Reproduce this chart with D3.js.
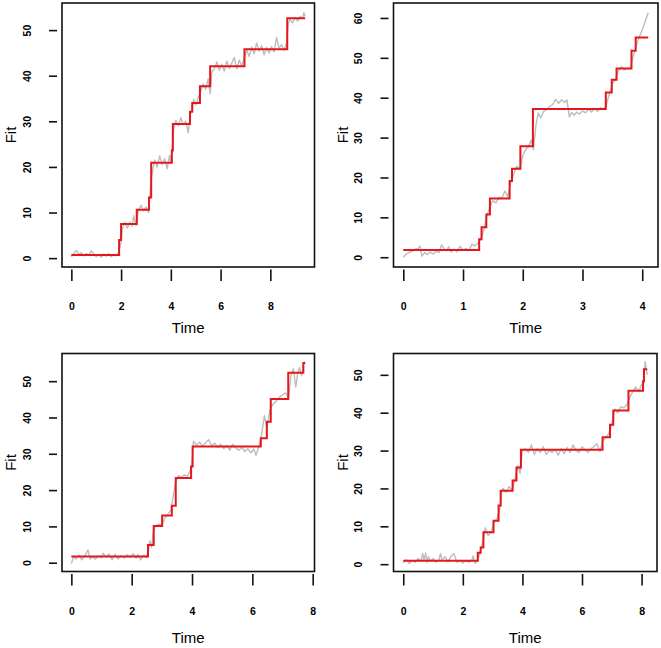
<!DOCTYPE html>
<html>
<head>
<meta charset="utf-8">
<script src="https://cdn.jsdelivr.net/npm/d3@7"></script>
<style>
  html, body { margin: 0; padding: 0; background: #ffffff; }
  svg { display: block; }
  text { font-family: "Liberation Sans", Arial, Helvetica, sans-serif; fill: #000; }
</style>
</head>
<body>
<script>
// ---------------- DATA ----------------
// Observed (noisy) series: [time, value]
const observed1 = [
  [0.0,0.3],[0.1,1.0],[0.2,1.7],[0.3,0.8],[0.4,1.2],[0.5,0.5],[0.6,1.0],[0.7,0.7],[0.8,1.6],[0.9,0.9],
  [1.0,0.3],[1.1,0.8],[1.2,0.2],[1.3,0.9],[1.4,0.4],[1.5,1.0],[1.6,0.3],[1.7,0.8],[1.8,0.5],[1.9,1.3],
  [2.0,3.5],[2.05,6.5],[2.15,7.8],[2.25,6.6],[2.35,7.9],[2.45,7.0],[2.5,9.3],[2.6,7.2],[2.7,10.5],[2.8,11.6],
  [2.9,10.4],[3.0,11.2],[3.1,10.0],[3.15,13.0],[3.2,17.0],[3.28,19.5],[3.35,21.5],[3.45,20.0],[3.55,22.4],[3.65,20.5],
  [3.75,21.8],[3.85,19.6],[3.95,22.5],[4.0,21.0],[4.05,24.0],[4.12,28.5],[4.2,30.2],[4.3,29.0],[4.4,30.8],[4.5,29.3],
  [4.6,30.0],[4.7,27.5],[4.78,31.5],[4.85,32.5],[4.92,34.8],[5.0,33.6],[5.1,35.2],[5.2,36.5],[5.3,38.2],[5.4,37.0],
  [5.5,39.3],[5.58,36.0],[5.65,40.8],[5.75,41.5],[5.85,43.0],[5.95,41.2],[6.05,42.5],[6.15,41.0],[6.25,43.2],[6.35,41.6],
  [6.45,42.8],[6.55,44.0],[6.65,41.5],[6.75,43.4],[6.85,42.2],[6.95,43.8],[7.05,45.6],[7.15,44.2],[7.25,46.3],[7.35,44.8],
  [7.45,47.2],[7.55,45.4],[7.65,46.6],[7.75,44.6],[7.85,46.2],[7.95,45.0],[8.05,46.4],[8.15,45.2],[8.25,48.4],[8.35,46.0],
  [8.45,46.8],[8.55,45.6],[8.65,47.0],[8.72,51.5],[8.8,52.3],[8.9,51.6],[9.0,52.8],[9.1,52.0],[9.2,53.0],[9.3,52.6],
  [9.35,53.8],[9.4,53.0]
];
const observed2 = [
  [0.0,0.0],[0.05,0.8],[0.1,1.2],[0.15,1.5],[0.2,2.0],[0.25,2.2],[0.28,2.8],[0.31,0.3],[0.36,1.2],[0.4,0.6],
  [0.45,1.3],[0.5,0.8],[0.55,1.5],[0.6,1.2],[0.64,3.1],[0.68,2.2],[0.72,1.6],[0.76,2.6],[0.8,1.3],[0.85,2.0],
  [0.9,1.4],[0.95,2.7],[1.0,1.8],[1.05,2.2],[1.1,1.8],[1.15,3.3],[1.2,2.8],[1.25,3.6],[1.3,4.5],[1.35,7.0],
  [1.4,10.5],[1.45,12.5],[1.5,14.2],[1.55,13.6],[1.6,15.0],[1.65,14.8],[1.7,16.6],[1.75,15.2],[1.8,18.8],[1.85,21.0],
  [1.9,22.8],[1.95,22.0],[2.0,25.5],[2.05,27.0],[2.1,27.8],[2.14,29.4],[2.18,27.0],[2.22,33.0],[2.26,36.2],[2.3,34.9],
  [2.35,36.6],[2.4,37.0],[2.45,37.8],[2.5,38.3],[2.55,39.6],[2.6,38.6],[2.65,39.5],[2.7,38.8],[2.74,39.4],[2.78,35.2],
  [2.82,36.3],[2.86,35.6],[2.9,36.4],[2.95,35.9],[3.0,36.7],[3.05,36.2],[3.1,37.1],[3.15,36.4],[3.2,37.3],[3.25,36.6],
  [3.3,37.5],[3.35,37.0],[3.4,38.2],[3.45,41.0],[3.5,43.5],[3.55,44.5],[3.6,46.6],[3.65,47.8],[3.7,47.0],[3.75,47.4],
  [3.8,47.3],[3.85,50.5],[3.9,53.0],[3.95,55.2],[4.0,57.0],[4.05,59.2],[4.1,61.3]
];
const observed3 = [
  [0.0,-0.2],[0.08,1.8],[0.15,1.0],[0.25,2.1],[0.35,0.8],[0.45,2.0],[0.55,3.5],[0.62,1.0],[0.7,1.6],[0.8,1.0],
  [0.9,1.9],[1.0,1.3],[1.05,2.6],[1.15,1.6],[1.25,2.4],[1.35,0.8],[1.45,2.3],[1.55,1.0],[1.65,2.0],[1.75,1.3],
  [1.85,2.2],[1.95,1.5],[2.05,2.5],[2.15,1.2],[2.2,2.3],[2.3,0.8],[2.4,2.1],[2.48,1.4],[2.55,3.0],[2.6,6.0],
  [2.66,4.2],[2.72,8.8],[2.8,10.2],[2.9,10.6],[3.0,10.4],[3.08,12.0],[3.2,13.4],[3.3,14.5],[3.36,17.5],[3.45,22.0],
  [3.55,24.0],[3.65,23.5],[3.75,24.2],[3.85,23.8],[3.95,25.5],[4.0,28.0],[4.05,33.5],[4.15,32.4],[4.25,33.2],[4.35,32.1],
  [4.45,33.0],[4.55,33.9],[4.65,32.2],[4.75,32.9],[4.85,31.8],[4.95,32.6],[5.05,31.4],[5.15,32.3],[5.25,31.0],[5.35,32.6],
  [5.45,31.6],[5.55,31.0],[5.65,31.8],[5.75,30.6],[5.85,31.4],[5.95,30.3],[6.05,31.3],[6.12,29.6],[6.2,31.6],[6.3,35.0],
  [6.4,40.5],[6.48,37.0],[6.58,42.0],[6.68,43.6],[6.8,44.6],[6.9,45.6],[7.0,46.2],[7.1,46.8],[7.2,45.5],[7.28,51.5],
  [7.36,53.4],[7.44,48.4],[7.5,52.0],[7.56,53.8],[7.63,51.5],[7.7,54.6],[7.75,55.4]
];
const observed4 = [
  [0.0,0.3],[0.1,1.2],[0.2,0.2],[0.3,1.0],[0.4,0.5],[0.5,1.5],[0.6,0.8],[0.65,2.8],[0.7,1.0],[0.75,3.0],
  [0.8,0.5],[0.85,2.0],[0.9,0.8],[1.0,1.5],[1.1,0.5],[1.2,1.2],[1.25,2.8],[1.3,1.0],[1.4,2.0],[1.5,0.6],
  [1.6,2.0],[1.7,2.8],[1.8,0.5],[1.9,1.0],[2.0,0.3],[2.1,1.0],[2.2,0.5],[2.3,1.0],[2.35,2.2],[2.4,0.3],
  [2.5,0.8],[2.6,4.0],[2.7,7.0],[2.75,9.6],[2.85,7.5],[2.95,8.5],[3.05,11.0],[3.15,12.0],[3.25,15.0],[3.3,19.5],
  [3.35,20.0],[3.45,19.0],[3.55,20.5],[3.65,19.5],[3.75,22.5],[3.85,26.0],[3.92,24.0],[4.0,30.0],[4.1,30.5],[4.2,29.5],
  [4.3,31.5],[4.4,29.0],[4.5,30.5],[4.6,29.5],[4.7,31.0],[4.8,29.0],[4.9,30.0],[5.0,29.5],[5.1,30.3],[5.2,28.8],
  [5.3,30.5],[5.4,29.2],[5.5,30.8],[5.6,29.5],[5.7,31.5],[5.8,30.0],[5.9,29.5],[6.0,31.0],[6.1,30.2],[6.2,29.5],
  [6.3,30.5],[6.4,31.0],[6.5,31.8],[6.6,29.8],[6.7,32.5],[6.8,33.5],[6.9,34.5],[7.0,37.0],[7.1,41.0],[7.2,40.0],
  [7.3,41.5],[7.4,41.3],[7.5,42.0],[7.6,44.0],[7.7,45.5],[7.8,46.8],[7.9,45.5],[8.0,47.5],[8.05,47.0],[8.12,53.5],
  [8.19,50.0]
];

// Fitted step functions: change times, levels, end time
const stepTimes1  = [0, 1.92, 2.0, 2.63, 3.12, 3.21, 4.04, 4.08, 4.77, 4.86, 5.17, 5.58, 6.96, 8.68];
const stepLevels1 = [0.7, 4.0, 7.5, 10.6, 13.3, 20.9, 23.6, 29.4, 32.1, 34.0, 37.7, 42.1, 45.8, 52.6];
const stepEnd1 = 9.4;

const stepTimes2  = [0, 1.27, 1.31, 1.39, 1.45, 1.78, 1.82, 1.96, 2.17, 3.39, 3.49, 3.57, 3.82, 3.89];
const stepLevels2 = [1.8, 4.5, 7.5, 10.7, 14.7, 19.1, 22.2, 27.8, 37.2, 41.3, 44.5, 47.3, 51.8, 55.1];
const stepEnd2 = 4.1;

const stepTimes3  = [0, 2.54, 2.73, 3.01, 3.33, 3.46, 3.97, 4.02, 6.28, 6.48, 6.61, 7.19, 7.69];
const stepLevels3 = [1.7, 4.9, 10.1, 13.0, 15.7, 23.3, 26.5, 32.0, 34.3, 38.8, 45.1, 52.3, 55.0];
const stepEnd3 = 7.75;

const stepTimes4  = [0, 2.5, 2.6, 2.69, 3.03, 3.2, 3.27, 3.67, 3.8, 3.95, 6.69, 6.94, 7.05, 7.56, 8.05, 8.08];
const stepLevels4 = [0.9, 3.0, 4.4, 8.4, 11.5, 15.5, 19.4, 22.1, 25.5, 30.2, 33.5, 36.8, 40.6, 45.8, 48.3, 51.5];
const stepEnd4 = 8.19;

// Tick labels
const xTicks1 = [0, 2, 4, 6, 8];
const xTicks2 = [0, 1, 2, 3, 4];
const xTicks3 = [0, 2, 4, 6, 8];
const xTicks4 = [0, 2, 4, 6, 8];
const yTicks1 = [0, 10, 20, 30, 40, 50];
const yTicks2 = [0, 10, 20, 30, 40, 50, 60];
const yTicks3 = [0, 10, 20, 30, 40, 50];
const yTicks4 = [0, 10, 20, 30, 40, 50];

const xTitle = "Time";
const yTitle = "Fit";

// ---------------- LAYOUT ----------------
const W = 661, H = 648;
const panels = [
  { box: {l: 62,    r: 314.5, t: 3,     b: 267},   obs: observed1, st: stepTimes1, sl: stepLevels1, se: stepEnd1, xt: xTicks1, yt: yTicks1, titleOff: 66 },
  { box: {l: 393.5, r: 658,   t: 3,     b: 267},   obs: observed2, st: stepTimes2, sl: stepLevels2, se: stepEnd2, xt: xTicks2, yt: yTicks2, titleOff: 66 },
  { box: {l: 62,    r: 314.5, t: 353.5, b: 571.5}, obs: observed3, st: stepTimes3, sl: stepLevels3, se: stepEnd3, xt: xTicks3, yt: yTicks3, titleOff: 71 },
  { box: {l: 393.5, r: 657,   t: 353.5, b: 571.5}, obs: observed4, st: stepTimes4, sl: stepLevels4, se: stepEnd4, xt: xTicks4, yt: yTicks4, titleOff: 71 }
];

const svg = d3.select("body").append("svg")
  .attr("width", W).attr("height", H)
  .attr("viewBox", `0 0 ${W} ${H}`);
svg.append("rect").attr("width", W).attr("height", H).attr("fill", "#fff");

function padDomain(ext) {
  const r = ext[1] - ext[0];
  return [ext[0] - 0.04 * r, ext[1] + 0.04 * r];
}

panels.forEach(p => {
  const g = svg.append("g");
  const xs = d3.scaleLinear()
    .domain(padDomain(d3.extent(p.obs, d => d[0])))
    .range([p.box.l, p.box.r]);
  const ys = d3.scaleLinear()
    .domain(padDomain(d3.extent(p.obs, d => d[1])))
    .range([p.box.b, p.box.t]);

  // observed grey line
  const line = d3.line().x(d => xs(d[0])).y(d => ys(d[1]));
  g.append("path")
    .datum(p.obs)
    .attr("d", line)
    .attr("fill", "none")
    .attr("stroke", "#bdbdbd")
    .attr("stroke-width", 1.4)
    .attr("stroke-linejoin", "round");

  // fitted step function
  const stepData = p.st.map((t, i) => [t, p.sl[i]]);
  stepData.push([p.se, p.sl[p.sl.length - 1]]);
  const stepLine = d3.line().x(d => xs(d[0])).y(d => ys(d[1])).curve(d3.curveStepAfter);
  g.append("path")
    .datum(stepData)
    .attr("d", stepLine)
    .attr("fill", "none")
    .attr("stroke", "#e3171d")
    .attr("stroke-width", 2);

  // box
  g.append("rect")
    .attr("x", p.box.l).attr("y", p.box.t)
    .attr("width", p.box.r - p.box.l).attr("height", p.box.b - p.box.t)
    .attr("fill", "none").attr("stroke", "#111").attr("stroke-width", 1.6);

  // x axis (ticks only, offset below box)
  const xAxis = d3.axisBottom(xs).tickValues(p.xt).tickSize(11.5).tickPadding(22).tickFormat(d3.format("d"));
  const xg = g.append("g").attr("transform", `translate(0,${p.box.b + 2.5})`).call(xAxis);
  xg.select(".domain").remove();
  xg.selectAll(".tick line").attr("stroke", "#111").attr("stroke-width", 1.6);
  xg.selectAll(".tick text")
    .attr("font-size", 10.5).attr("font-weight", "bold")
    .attr("font-family", "Liberation Sans, Arial, sans-serif").attr("fill", "#111");

  // y axis (ticks only, offset left of box), labels rotated
  const yAxis = d3.axisLeft(ys).tickValues(p.yt).tickSize(8).tickPadding(18).tickFormat(d3.format("d"));
  const yg = g.append("g").attr("transform", `translate(${p.box.l - 5},0)`).call(yAxis);
  yg.select(".domain").remove();
  yg.selectAll(".tick line").attr("stroke", "#111").attr("stroke-width", 1.6);
  yg.selectAll(".tick text")
    .attr("font-size", 10.5).attr("font-weight", "bold")
    .attr("font-family", "Liberation Sans, Arial, sans-serif").attr("fill", "#111")
    .attr("x", null).attr("dy", null)
    .attr("text-anchor", "middle")
    .attr("transform", "translate(-26.5,0) rotate(-90)");

  // axis titles
  g.append("text")
    .attr("x", (p.box.l + p.box.r) / 2)
    .attr("y", p.box.b + p.titleOff)
    .attr("text-anchor", "middle")
    .attr("font-size", 15)
    .text(xTitle);
  g.append("text")
    .attr("transform", `translate(${p.box.l - 46},${(p.box.t + p.box.b) / 2}) rotate(-90)`)
    .attr("text-anchor", "middle")
    .attr("font-size", 15)
    .text(yTitle);
});
</script>
</body>
</html>
